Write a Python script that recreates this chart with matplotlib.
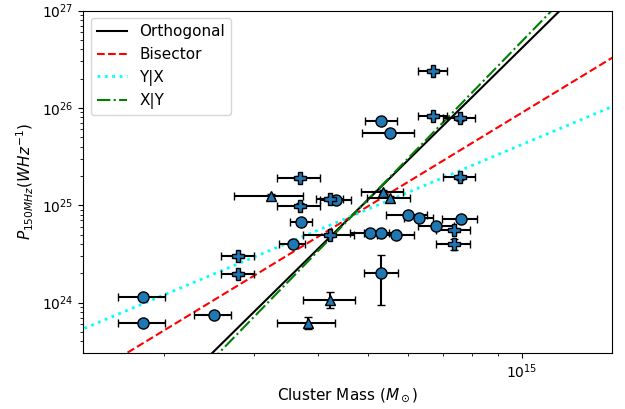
import numpy as np
import matplotlib
matplotlib.use("Agg")
import matplotlib.pyplot as plt
from matplotlib.ticker import NullFormatter

# cluster masses in 1e14 Msun, radio powers in 1e24 W/Hz
# circles
circ_mass = [5.32, 5.52, 4.33, 3.71, 3.57, 5.06, 5.32, 5.68, 5.99, 6.30, 6.81, 7.59, 5.32, 1.82, 1.82, 2.50]
circ_power = [73.1, 55.4, 11.3, 6.78, 4.0, 5.15, 5.22, 4.91, 7.87, 7.40, 6.17, 7.21, 2.0, 1.13, 0.61, 0.743]
circ_merr = [0.39, 0.65, 0.30, 0.19, 0.21, 0.45, 0.40, 0.47, 0.55, 0.42, 0.55, 0.60, 0.40, 0.19, 0.19, 0.21]
circ_perr = [2.0, 1.6, 0.3, 0.2, 0.1, 0.15, 0.15, 0.15, 0.2, 0.2, 0.2, 0.2, 1.05, 0.03, 0.02, 0.02]

# plus markers
plus_mass = [6.71, 6.71, 7.57, 3.68, 7.57, 4.22, 3.68, 4.22, 7.36, 7.36, 2.79, 2.79]
plus_power = [238, 82.8, 77.8, 19.1, 19.3, 11.6, 9.93, 4.94, 5.57, 3.97, 3.03, 1.97]
plus_merr = [0.43, 0.43, 0.54, 0.36, 0.54, 0.25, 0.36, 0.48, 0.55, 0.55, 0.21, 0.21]
plus_perr = [12, 4, 4, 1.0, 1.0, 0.6, 0.5, 0.25, 0.3, 0.5, 0.15, 0.1]

# triangles
tri_mass = [5.36, 5.52, 3.24, 4.23, 3.82]
tri_power = [13.6, 11.8, 12.4, 1.07, 0.624]
tri_merr = [0.51, 0.53, 0.50, 0.50, 0.49]
tri_perr = [0.7, 0.6, 0.6, 0.2, 0.086]

# fits: log P = norm + slope * (log M - pivot)
fit_names = ["Orthogonal", "Bisector", "Y|X", "X|Y"]
fit_slopes = [5.18, 3.20, 2.21, 5.41]
fit_norms = [25.06, 24.99, 24.96, 25.06]
fit_pivot = 14.7
fit_colors = ["black", "red", "cyan", "green"]
fit_styles = ["-", "--", ":", "-."]
fit_widths = [1.5, 1.5, 2.0, 1.5]

fig = plt.figure(figsize=(6.25, 4.09), dpi=100)
ax = fig.add_axes([0.1328, 0.1381, 0.8464, 0.8362])

logm = np.linspace(14.0, 15.3, 200)
for name, b, a, c, ls, lw in zip(fit_names, fit_slopes, fit_norms, fit_colors, fit_styles, fit_widths):
    ax.plot(10**logm, 10**(a + b * (logm - fit_pivot)), color=c, linestyle=ls, linewidth=lw, label=name, zorder=2)

groups = [
    (circ_mass, circ_power, circ_merr, circ_perr, "o", 8),
    (plus_mass, plus_power, plus_merr, plus_perr, "P", 8.5),
    (tri_mass, tri_power, tri_merr, tri_perr, "^", 7.5),
]
for m, p, me, pe, mk, ms in groups:
    ax.errorbar(np.array(m) * 1e14, np.array(p) * 1e24,
                xerr=np.array(me) * 1e14, yerr=np.array(pe) * 1e24,
                fmt=mk, markersize=ms, color="tab:blue", markeredgecolor="black",
                markeredgewidth=1.0, ecolor="black", elinewidth=1.5, capsize=3,
                capthick=1.5, zorder=3)

ax.set_xscale("log")
ax.set_yscale("log")
ax.set_xlim(1.39e14, 1.5e15)
ax.set_ylim(10**23.487, 1e27)
ax.xaxis.set_minor_formatter(NullFormatter())

ax.set_xlabel(r"Cluster Mass ($M_\odot$)", fontsize=11)
ax.set_ylabel(r"$P_{150MHz} (WHz^{-1})$", fontsize=11)
ax.legend(loc="upper left", fontsize=11)

fig.savefig("out.png", dpi=100)
